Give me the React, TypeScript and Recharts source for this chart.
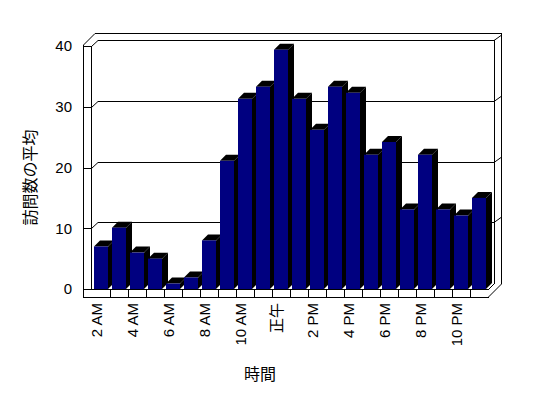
import React from 'react';
import { BarChart, Bar, XAxis, YAxis, CartesianGrid, Label } from 'recharts';

const hours = [
  '2 AM', '3 AM', '4 AM', '5 AM', '6 AM', '7 AM', '8 AM', '9 AM', '10 AM', '11 AM',
  '正午', '1 PM', '2 PM', '3 PM', '4 PM', '5 PM', '6 PM', '7 PM', '8 PM', '9 PM', '10 PM', '11 PM',
];
const visits = [
  7, 10.1, 6, 5, 0.9, 1.9, 8, 21.1, 31.3, 33.3, 39.4,
  31.3, 26.2, 33.3, 32.3, 22.1, 24.2, 13.1, 22.1, 13.1, 12.1, 15,
];
const yTicks = [0, 10, 20, 30, 40];

const data = hours.map((hour, i) => ({ hour, visits: visits[i] }));

const W = 548;
const H = 398;
const LEFT = 92;
const RIGHT = 488;
const TOP = 46;
const BOTTOM = 289;
const DEPTH = 6;
const FONT = "'Liberation Sans', 'Noto Sans CJK JP', sans-serif";

// 3D column: navy front face, black top and side
const Box3D = (props: any) => {
  const { x, y, width, height } = props;
  if (height == null || width == null) return null;
  const b = y + height;
  const r = x + width;
  return (
    <g>
      <polygon points={`${x},${y} ${x + DEPTH},${y - DEPTH} ${r + DEPTH},${y - DEPTH} ${r},${y}`} fill="#000" />
      <polygon points={`${r},${y} ${r + DEPTH},${y - DEPTH} ${r + DEPTH},${b - DEPTH} ${r},${b}`} fill="#000" />
      <rect x={x} y={y} width={width} height={height} fill="#000080" />
    </g>
  );
};

// gridline on the back wall, plus its trace on the side walls
const WallLine = (p: any) => {
  const y = Math.round(p.y1) + 0.5;
  if (y > BOTTOM - 2) return <g key={p.key} />;
  const yb = y - DEPTH;
  const x1 = p.x1;
  const x2 = p.x2;
  return (
    <g key={p.key} stroke="#000" strokeWidth={1} fill="none" shapeRendering="crispEdges">
      <line x1={x1 - 9} y1={y} x2={x1 - 1} y2={y} />
      <line x1={x1 - 0.5} y1={y} x2={x1 + DEPTH} y2={yb} shapeRendering="auto" />
      <line x1={x1 + DEPTH} y1={yb} x2={x2 + DEPTH} y2={yb} />
      <line x1={x2 + DEPTH} y1={yb} x2={x2 + 13} y2={yb - 5} shapeRendering="auto" />
    </g>
  );
};

const HourTick = (props: any) => {
  const { x, y, payload } = props;
  const tx = x - 5;
  return (
    <text
      x={tx}
      y={y}
      transform={`rotate(-90, ${tx}, ${y})`}
      textAnchor="end"
      dominantBaseline="central"
      fontSize={15}
      fontFamily={FONT}
      fill="#000"
    >
      {payload.value}
    </text>
  );
};

const Frame = () => {
  const step = (RIGHT - LEFT) / hours.length;
  const ticks = hours.slice(1).map((_, i) => Math.round(LEFT + step * (i + 1)) + 0.5);
  return (
    <svg width={W} height={H} style={{ position: 'absolute', left: 0, top: 0 }}>
      <g stroke="#000" strokeWidth={1} fill="none" shapeRendering="crispEdges">
        <line x1={83.5} y1={45} x2={83.5} y2={298} />
        <line x1={91.5} y1={46} x2={91.5} y2={290} />
        <line x1={83.5} y1={45} x2={95} y2={33.5} shapeRendering="auto" />
        <line x1={95} y1={33.5} x2={502} y2={33.5} />
        <line x1={501.5} y1={33.5} x2={501.5} y2={284} />
        <line x1={501.5} y1={284} x2={488} y2={297.5} shapeRendering="auto" />
        <line x1={494.5} y1={40} x2={494.5} y2={283.5} />
        <line x1={494.5} y1={283.5} x2={488.5} y2={289.5} shapeRendering="auto" />
        <line x1={83.5} y1={289.5} x2={489} y2={289.5} />
        <line x1={83.5} y1={297.5} x2={488.5} y2={297.5} />
        {ticks.map((tx) => (
          <line key={tx} x1={tx} y1={289.5} x2={tx} y2={297.5} />
        ))}
      </g>
    </svg>
  );
};

export default function App() {
  return (
    <div style={{ position: 'absolute', left: 0, top: 0, width: W, height: H, background: '#fff' }}>
      <Frame />
      <div style={{ position: 'absolute', left: 0, top: 0 }}>
        <BarChart width={W} height={H} data={data} margin={{ top: TOP, right: W - RIGHT, bottom: 0, left: 0 }}>
          <CartesianGrid vertical={false} horizontal={WallLine as any} />
          <XAxis
            dataKey="hour"
            height={H - BOTTOM}
            interval={1}
            axisLine={false}
            tickLine={false}
            tickSize={0}
            tickMargin={14}
            tick={<HourTick />}
          >
            <Label
              content={(p: any) => {
                const vb = p.viewBox;
                return (
                  <text
                    x={vb.x + vb.width / 2 - 30}
                    y={vb.y + 85}
                    textAnchor="middle"
                    dominantBaseline="central"
                    fontSize={16}
                    fontFamily={FONT}
                    fill="#000"
                  >
                    時間
                  </text>
                );
              }}
            />
          </XAxis>
          <YAxis
            type="number"
            domain={[0, 40]}
            ticks={yTicks}
            width={LEFT}
            axisLine={false}
            tickLine={false}
            tickSize={0}
            tickMargin={20}
            tick={{ fill: '#000', fontSize: 15, fontFamily: FONT }}
          >
            <Label
              content={(p: any) => {
                const vb = p.viewBox;
                const cx = 30;
                const cy = vb.y + vb.height / 2 + 10;
                return (
                  <text
                    x={cx}
                    y={cy}
                    transform={`rotate(-90, ${cx}, ${cy})`}
                    textAnchor="middle"
                    dominantBaseline="central"
                    fontSize={16}
                    fontFamily={FONT}
                    fill="#000"
                  >
                    訪問数の平均
                  </text>
                );
              }}
            />
          </YAxis>
          <Bar dataKey="visits" barSize={14} shape={<Box3D />} isAnimationActive={false} />
        </BarChart>
      </div>
    </div>
  );
}
